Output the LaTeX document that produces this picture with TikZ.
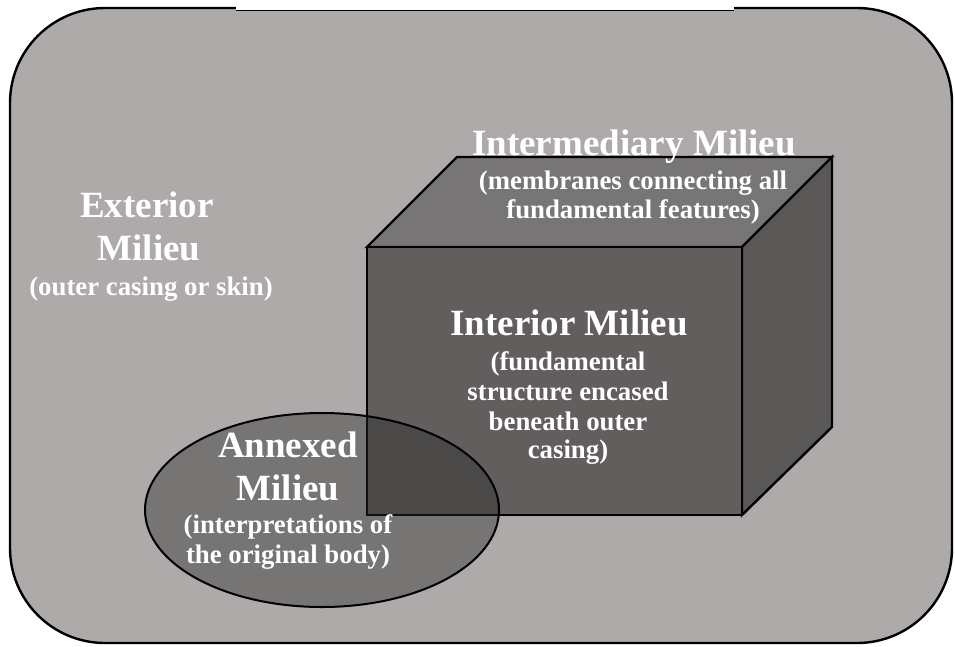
\documentclass[tikz,border=0pt]{standalone}
\usepackage{fontspec}
\setmainfont{Liberation Serif}
\begin{document}
\begin{tikzpicture}[x=1pt,y=-1pt,
  edge/.style={draw=black,line width=2.4pt,line join=miter},
  head/.style={text=white,font=\bfseries\fontsize{37}{40}\selectfont,anchor=base,inner sep=0pt},
  sub/.style={text=white,font=\bfseries\fontsize{26.8}{30}\selectfont,anchor=base,inner sep=0pt}]
\definecolor{outerfill}{RGB}{174,170,169}
\definecolor{frontfill}{RGB}{98,94,93}
\definecolor{sidefill}{RGB}{90,88,87}
\definecolor{topfill}{RGB}{120,117,118}
\definecolor{annexfill}{RGB}{44,42,43}
\useasboundingbox (0,0) rectangle (955,646);

% outer casing
\draw[fill=outerfill,line width=2.4pt,rounded corners=95pt] (10,8) rectangle (952,643);
% white strip across the top edge
\fill[white] (236,0) rectangle (734,10);
\draw[line width=1.2pt] (236,10.4) -- (734,10.4);

% the cube
\coordinate (ftl) at (367,247);
\coordinate (ftr) at (742,247);
\coordinate (fbr) at (742,515);
\coordinate (fbl) at (367,515);
\coordinate (btl) at (457,157);
\coordinate (btr) at (832,157);
\coordinate (bbr) at (832,427);
\draw[edge,fill=topfill] (ftl) -- (btl) -- (btr) -- (ftr) -- cycle;
\draw[edge,fill=sidefill] (ftr) -- (btr) -- (bbr) -- (fbr) -- cycle;
\draw[edge,fill=frontfill] (ftl) -- (ftr) -- (fbr) -- (fbl) -- cycle;

% annexed ellipse, translucent over the cube
\draw[line width=2pt,fill=annexfill,fill opacity=0.42] (322,510) ellipse [x radius=177, y radius=97];

% exterior milieu
\node[head] (ext1) at (147,217) {Exterior};
\node[head] (ext2) at (149,260) {Milieu};
\node[sub]  (ext3) at (151,295) {(outer casing or skin)};

% intermediary milieu
\node[head] (int1) at (634,155) {Intermediary Milieu};
\node[sub]  (int2) at (633,189) {(membranes connecting all};
\node[sub]  (int3) at (633,218) {fundamental features)};

% interior milieu
\node[head] (inn1) at (569,335) {Interior Milieu};
\node[sub]  (inn2) at (568,370) {(fundamental};
\node[sub]  (inn3) at (568,400) {structure encased};
\node[sub]  (inn4) at (568,430) {beneath outer};
\node[sub]  (inn5) at (568,458) {casing)};

% annexed milieu
\node[head] (ann1) at (288,457) {Annexed};
\node[head] (ann2) at (288,500) {Milieu};
\node[sub]  (ann3) at (288,533) {(interpretations of};
\node[sub]  (ann4) at (288,563) {the original body)};
\end{tikzpicture}
\end{document}
